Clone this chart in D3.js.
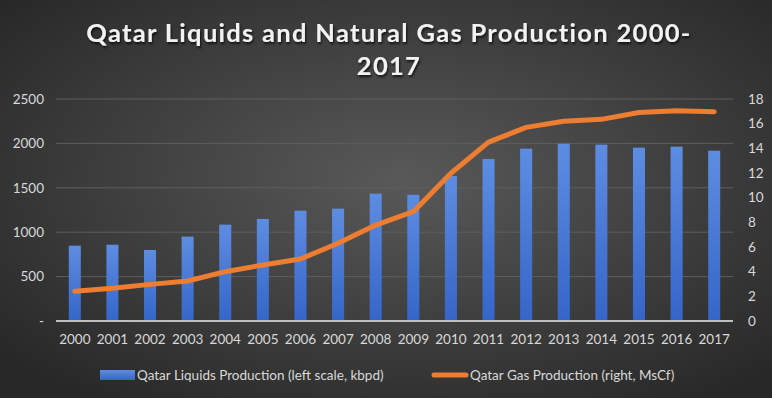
<!DOCTYPE html>
<html>
<head>
<meta charset="utf-8">
<script src="https://cdn.jsdelivr.net/npm/d3@7"></script>
<style>
  body { margin: 0; background: #333; }
  svg { display: block; }
  text { font-family: Lato, "Open Sans", sans-serif; }
</style>
</head>
<body>
<div id="chart"></div>
<script>
// Chart data
const years = ["2000", "2001", "2002", "2003", "2004", "2005", "2006", "2007", "2008",
  "2009", "2010", "2011", "2012", "2013", "2014", "2015", "2016", "2017"];
const liquids = [848, 859, 800, 950, 1085, 1149, 1242, 1265, 1434,
  1422, 1633, 1824, 1941, 1997, 1986, 1952, 1963, 1918];
const gas = [2.41, 2.66, 2.97, 3.24, 4.0, 4.54, 5.03, 6.3, 7.78,
  8.86, 11.98, 14.5, 15.7, 16.2, 16.35, 16.9, 17.05, 16.97];
const leftTicks = [0, 500, 1000, 1500, 2000, 2500];
const rightTicks = [0, 2, 4, 6, 8, 10, 12, 14, 16, 18];

const W = 772, H = 398;
const margin = { top: 99, right: 39, bottom: 77, left: 56 };
const width = W - margin.left - margin.right;
const height = H - margin.top - margin.bottom;

const svg = d3.select("#chart").append("svg")
  .attr("width", W)
  .attr("height", H);

const defs = svg.append("defs");
const bg = defs.append("radialGradient").attr("id", "bg")
  .attr("cx", "52%").attr("cy", "45%").attr("r", "68%");
bg.append("stop").attr("offset", "0%").attr("stop-color", "#595959");
bg.append("stop").attr("offset", "100%").attr("stop-color", "#282828");

const barGrad = defs.append("linearGradient").attr("id", "barGrad")
  .attr("x1", 0).attr("y1", 0).attr("x2", 0).attr("y2", 1);
barGrad.append("stop").attr("offset", "0%").attr("stop-color", "#5d8de2");
barGrad.append("stop").attr("offset", "100%").attr("stop-color", "#3565c8");

const shadow = defs.append("filter").attr("id", "shadow")
  .attr("x", "-10%").attr("y", "-10%").attr("width", "120%").attr("height", "140%");
shadow.append("feDropShadow").attr("dx", 1).attr("dy", 2)
  .attr("stdDeviation", 1.2).attr("flood-color", "#000").attr("flood-opacity", 0.7);

svg.append("rect").attr("width", W).attr("height", H).attr("fill", "url(#bg)");

// Title
const title = svg.append("text")
  .attr("text-anchor", "middle")
  .attr("fill", "#f2f2f2")
  .attr("font-size", 25.5)
  .attr("font-weight", "bold")
  .attr("letter-spacing", 1.3)
  .attr("filter", "url(#shadow)");
title.append("tspan").attr("x", W / 2 + 3).attr("y", 42).text("Qatar Liquids and Natural Gas Production 2000-");
title.append("tspan").attr("x", W / 2 + 3).attr("y", 75).text("2017");

const g = svg.append("g").attr("transform", `translate(${margin.left},${margin.top})`);

const x = d3.scaleBand().domain(years).range([0, width]).padding(0);
const yL = d3.scaleLinear().domain([0, 2500]).range([height, 0]);
const yR = d3.scaleLinear().domain([0, 18]).range([height, 0]);

// Gridlines
g.append("g").selectAll("line")
  .data(leftTicks.filter(d => d > 0))
  .join("line")
  .attr("x1", 0).attr("x2", width)
  .attr("y1", d => yL(d)).attr("y2", d => yL(d))
  .attr("stroke", "#5e5e5e").attr("stroke-width", 1);

// Bars
const barW = x.bandwidth() * 0.32;
g.append("g").selectAll("rect")
  .data(liquids)
  .join("rect")
  .attr("x", (d, i) => x(years[i]) + (x.bandwidth() - barW) / 2)
  .attr("y", d => yL(d))
  .attr("width", barW)
  .attr("height", d => height - yL(d))
  .attr("fill", "url(#barGrad)");

// Baseline
g.append("line")
  .attr("x1", 0).attr("x2", width)
  .attr("y1", height).attr("y2", height)
  .attr("stroke", "#bfbfbf").attr("stroke-width", 2);

// Gas line
const line = d3.line()
  .x((d, i) => x(years[i]) + x.bandwidth() / 2)
  .y(d => yR(d));
g.append("path")
  .datum(gas)
  .attr("d", line)
  .attr("fill", "none")
  .attr("stroke", "#ed7d31")
  .attr("stroke-width", 5)
  .attr("stroke-linejoin", "round")
  .attr("stroke-linecap", "round");

// Axes
const axisColor = "#d9d9d9";
const leftAxis = g.append("g")
  .call(d3.axisLeft(yL).tickValues(leftTicks).tickSize(0).tickPadding(12)
    .tickFormat(d => d === 0 ? "-" : d));
const rightAxis = g.append("g")
  .attr("transform", `translate(${width},0)`)
  .call(d3.axisRight(yR).tickValues(rightTicks).tickSize(0).tickPadding(15));
const bottomAxis = g.append("g")
  .attr("transform", `translate(0,${height})`)
  .call(d3.axisBottom(x).tickSize(0).tickPadding(13));

[leftAxis, rightAxis, bottomAxis].forEach(a => {
  a.select(".domain").remove();
  a.selectAll("text").attr("fill", axisColor).attr("font-size", 13.5)
    .attr("font-family", "Lato, sans-serif");
});

// Legend
const legend = svg.append("g").attr("transform", "translate(0,375)");
legend.append("rect")
  .attr("x", 100).attr("y", -5).attr("width", 35).attr("height", 10)
  .attr("fill", "url(#barGrad)");
legend.append("text")
  .attr("x", 137).attr("y", 0).attr("dy", "0.35em")
  .attr("fill", axisColor).attr("font-size", 13.5)
  .text("Qatar Liquids Production (left scale, kbpd)");
legend.append("line")
  .attr("x1", 434).attr("x2", 466).attr("y1", 0).attr("y2", 0)
  .attr("stroke", "#ed7d31").attr("stroke-width", 5).attr("stroke-linecap", "round");
legend.append("text")
  .attr("x", 470).attr("y", 0).attr("dy", "0.35em")
  .attr("fill", axisColor).attr("font-size", 13.5)
  .text("Qatar Gas Production (right, MsCf)");
</script>
</body>
</html>
